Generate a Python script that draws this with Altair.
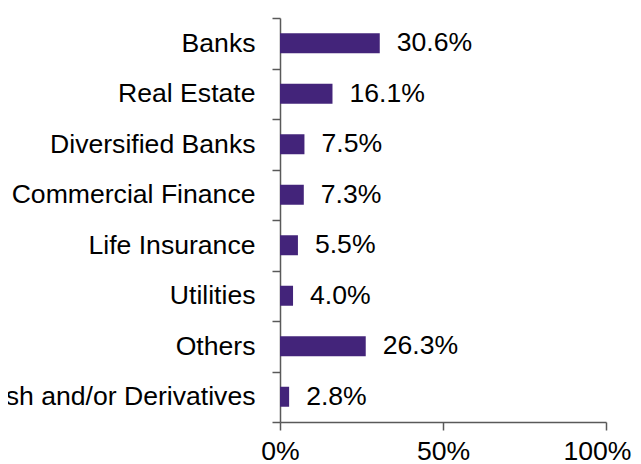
import altair as alt
import pandas as pd

categories = ["Banks", "Real Estate", "Diversified Banks", "Commercial Finance",
              "Life Insurance", "Utilities", "Others", "Cash and/or Derivatives"]
values = [30.6, 16.1, 7.5, 7.3, 5.5, 4.0, 26.3, 2.8]
x_ticks = [0, 0.5, 1.0]

df = pd.DataFrame({"cat": categories, "val": [v / 100 for v in values]})

FONT = "Liberation Sans"
FS = 26.6

y_enc = alt.Y("cat:N", sort=categories, title=None,
              scale=alt.Scale(paddingInner=0, paddingOuter=0),
              axis=alt.Axis(tickBand="extent", tickSize=8, labelPadding=17,
                            labelFontSize=FS, labelFont=FONT, labelColor="#000000",
                            domainColor="#595959", tickColor="#595959",
                            domainWidth=1.5, tickWidth=1.5, labelLimit=1000))
x_enc = alt.X("val:Q", title=None, scale=alt.Scale(domain=[0, 1], nice=False),
              axis=alt.Axis(values=x_ticks, format=".0%", grid=False, tickSize=8,
                            labelPadding=8, labelFontSize=FS, labelFont=FONT,
                            labelColor="#000000", domainColor="#595959",
                            tickColor="#595959", domainWidth=1.5, tickWidth=1.5,
                            labelFlush=False, labelOverlap=False,
                            labelOffset=alt.expr("datum.value >= 1 ? -9 : 0")))

bars = alt.Chart(df).mark_bar(color="#43247A", height=20).encode(x=x_enc, y=y_enc)
text = alt.Chart(df).mark_text(align="left", baseline="middle", dx=17,
                               fontSize=FS, font=FONT, color="#000000").encode(
    x="val:Q", y=alt.Y("cat:N", sort=categories), text=alt.Text("val:Q", format=".1%"))

chart = (bars + text).properties(
    width=326, height=404,
    autosize=alt.AutoSizeParams(type="none"),
    padding={"left": 272, "top": 10, "right": 27, "bottom": 44},
).configure_view(stroke=None)

chart.save("out.html", embed_options={"renderer": "svg", "actions": False})
